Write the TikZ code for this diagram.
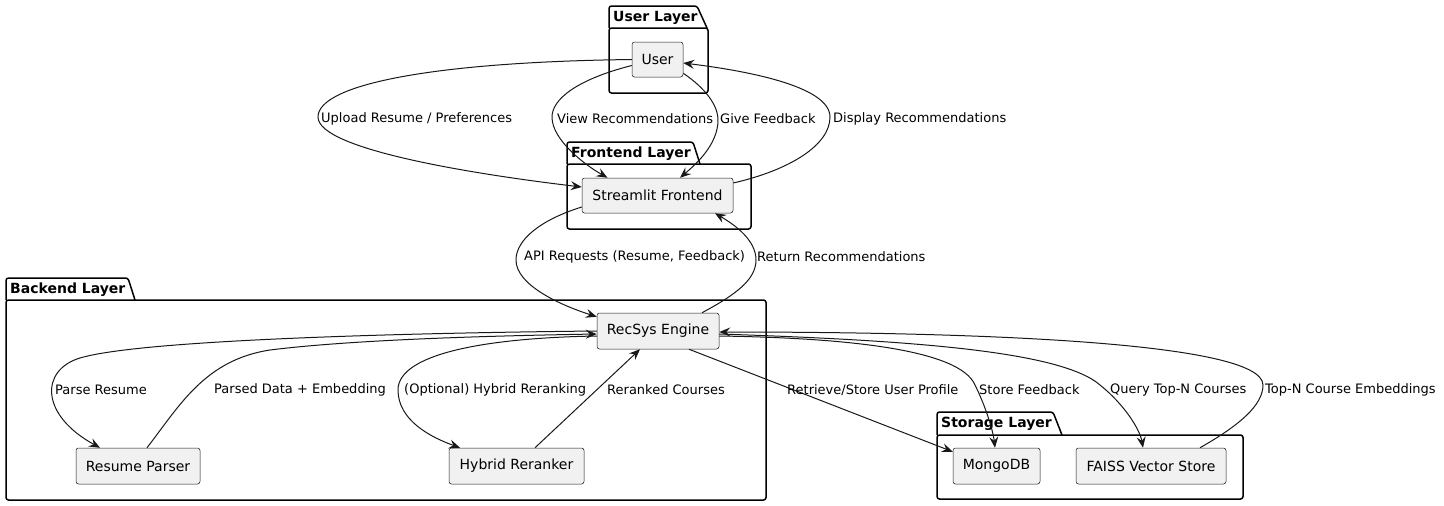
\documentclass[tikz,border=0pt]{standalone}
\usepackage{fontspec}
\setmainfont{DejaVu Sans}
\usetikzlibrary{arrows.meta,calc}
\definecolor{umlline}{HTML}{181818}
\definecolor{umlfill}{HTML}{F1F1F1}
\tikzset{
  comp/.style={draw=umlline, fill=umlfill, line width=0.5pt, rounded corners=2.5pt, minimum height=36pt, inner sep=0pt, font=\fontsize{14}{16}\selectfont},
  pkg/.style={draw=black, line width=1.5pt, rounded corners=2.5pt},
  pkgtitle/.style={anchor=west, inner sep=0pt, font=\fontsize{14}{16}\selectfont\bfseries},
  lbl/.style={anchor=west, inner sep=0pt, font=\fontsize{13}{15}\selectfont},
  flow/.style={draw=umlline, line width=1pt, -{Stealth[length=11pt,width=9pt,inset=4pt]}},
}
\begin{document}
\begin{tikzpicture}[x=1pt, y=-1pt]
\useasboundingbox (0,0) rectangle (1444,506);
% packages
\draw[pkg] (609,28) rectangle (708,93);
\draw[pkg] (609,28) -- (609,6) -- (697,6) -- (707,28);
\node[pkgtitle] (userpkg) at (613,17.5) {User Layer};
\draw[pkg] (567,164) rectangle (751,229);
\draw[pkg] (567,164) -- (567,142) -- (693,142) -- (700,164);
\node[pkgtitle] (frontpkg) at (571,153.5) {Frontend Layer};
\draw[pkg] (6,300) rectangle (766,500);
\draw[pkg] (6,300) -- (6,278) -- (128,278) -- (135,300);
\node[pkgtitle] (backpkg) at (10,289.5) {Backend Layer};
\draw[pkg] (937,435) rectangle (1243,499);
\draw[pkg] (937,435) -- (937,412) -- (1053,412) -- (1062,435);
\node[pkgtitle] (storepkg) at (941,424) {Storage Layer};
% components
\node[comp, minimum width=51pt, minimum height=35pt] (user) at (657.5,59.5) {User};
\node[comp, minimum width=151pt, minimum height=35pt] (sf) at (657.5,195.5) {Streamlit Frontend};
\node[comp, minimum width=122pt] (rec) at (658,331) {RecSys Engine};
\node[comp, minimum width=124pt] (rp) at (138,466) {Resume Parser};
\node[comp, minimum width=135pt] (hr) at (516.5,466) {Hybrid Reranker};
\node[comp, minimum width=87pt] (mongo) at (996.5,466) {MongoDB};
\node[comp, minimum width=150pt] (faiss) at (1151,466) {FAISS Vector Store};
% user <-> frontend
\draw[flow] (user.west) .. controls (430,62) and (318,85) .. (318,117) .. controls (318,150) and (480,175) .. ($(sf.west)+(0,-8.5)$);
\draw[flow] ($(user.west)+(0,6)$) .. controls (575,80) and (552,100) .. (552,117) .. controls (552,140) and (585,165) .. ($(sf.north)+(-50,0)$);
\draw[flow] ($(user.south east)+(0,-4)$) .. controls (705,88) and (718,105) .. (718,120) .. controls (718,145) and (695,165) .. ($(sf.north)+(22.5,0)$);
\draw[flow] ($(sf.east)+(0,-12.5)$) .. controls (790,170) and (830,145) .. (830,117) .. controls (830,85) and (740,70) .. ($(user.east)+(0,3.5)$);
% frontend <-> backend
\draw[flow] ($(sf.west)+(0,11.5)$) .. controls (540,220) and (516,240) .. (516,260) .. controls (516,285) and (560,305) .. ($(rec.north west)+(0,4)$);
\draw[flow] ($(rec.north)+(44,0)$) .. controls (735,295) and (756,280) .. (756,260) .. controls (756,240) and (735,225) .. ($(sf.south)+(57.5,0)$);
% backend
\draw[flow] (rec.west) .. controls (400,333) and (140,340) .. (80,358) .. controls (40,370) and (40,415) .. ($(rp.north)+(-38,0)$);
\draw[flow] ($(rp.north)+(9,0)$) .. controls (180,405) and (205,360) .. (270,350) .. controls (350,340) and (480,336) .. ($(rec.west)+(0,3)$);
\draw[flow] ($(rec.west)+(0,5)$) .. controls (480,338) and (398,355) .. (398,390) .. controls (398,420) and (430,437) .. ($(hr.north)+(-56.5,0)$);
\draw[flow] ($(hr.north)+(18.5,0)$) -- ($(rec.south)+(-18,0)$);
% backend <-> storage
\draw[flow] ($(rec.south)+(31,0)$) -- ($(mongo.north west)+(0,4)$);
\draw[flow] ($(rec.east)+(0,5)$) .. controls (850,338) and (960,350) .. (975,385) .. controls (985,405) and (993,430) .. ($(mongo.north)+(-1.5,0)$);
\draw[flow] ($(rec.east)+(0,3)$) .. controls (900,340) and (1060,350) .. (1100,385) .. controls (1125,405) and (1140,430) .. ($(faiss.north)+(-8,0)$);
\draw[flow] ($(faiss.north)+(49,0)$) .. controls (1240,425) and (1263,405) .. (1263,385) .. controls (1263,340) and (950,332) .. ($(rec.east)+(0,1)$);
% labels
\node[lbl] (l1) at (321,119) {Upload Resume / Preferences};
\node[lbl] (l2) at (557,119) {View Recommendations};
\node[lbl] (l3) at (720,119) {Give Feedback};
\node[lbl] (l4) at (833,119) {Display Recommendations};
\node[lbl] (l5) at (524,257) {API Requests (Resume, Feedback)};
\node[lbl] (l6) at (757,257) {Return Recommendations};
\node[lbl] (l7) at (55,390) {Parse Resume};
\node[lbl] (l8) at (214,390) {Parsed Data + Embedding};
\node[lbl] (l9) at (404,390) {(Optional) Hybrid Reranking};
\node[lbl] (l10) at (607,390) {Reranked Courses};
\node[lbl] (l11) at (787,390) {Retrieve/Store User Profile};
\node[lbl] (l12) at (979,390) {Store Feedback};
\node[lbl] (l13) at (1110,390) {Query Top-N Courses};
\node[lbl] (l14) at (1265,390) {Top-N Course Embeddings};
\end{tikzpicture}
\end{document}
